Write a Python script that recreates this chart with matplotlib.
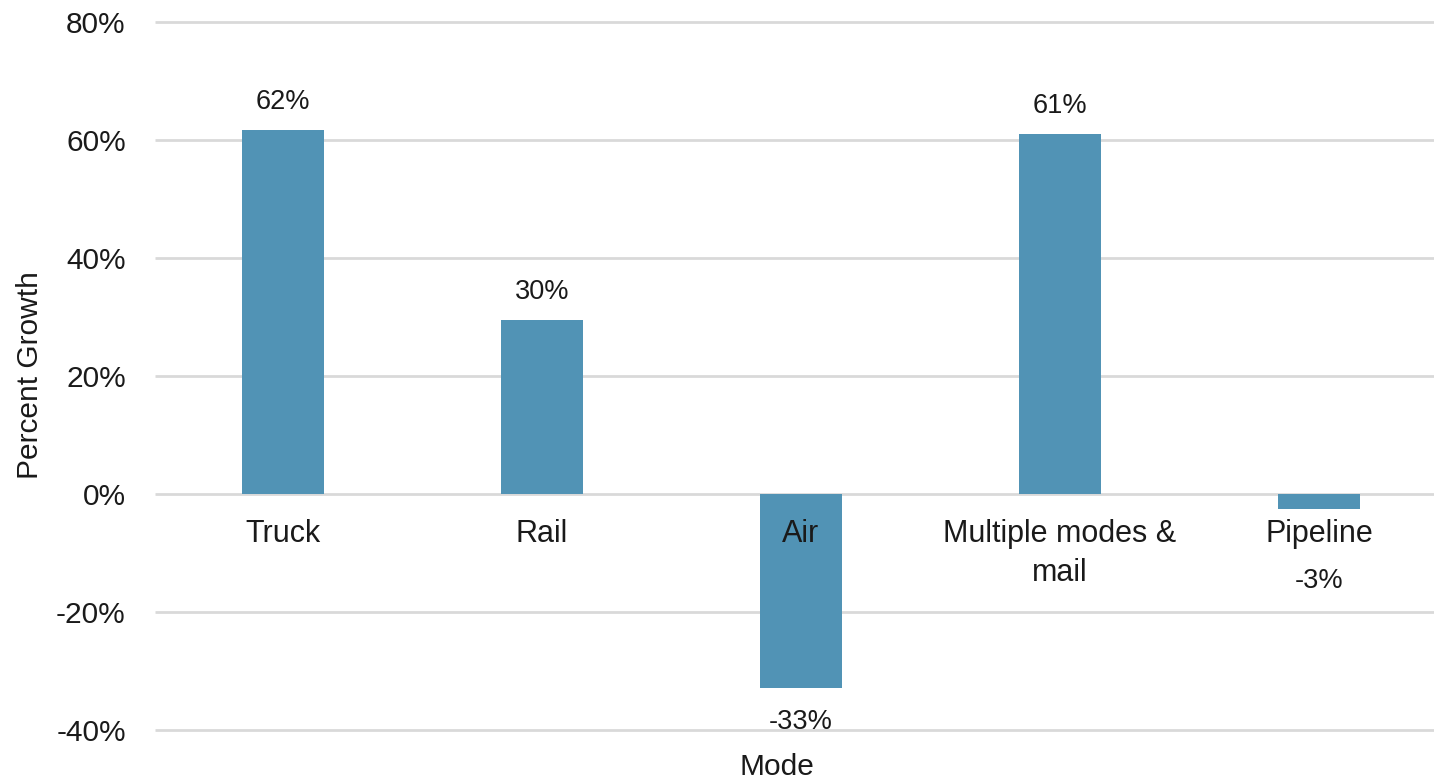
import matplotlib.pyplot as plt

modes = ["Truck", "Rail", "Air", "Multiple modes &\nmail", "Pipeline"]
growth = [61.7, 29.5, -32.9, 61.0, -2.6]
labels = ["62%", "30%", "-33%", "61%", "-3%"]
yticks = [-40, -20, 0, 20, 40, 60, 80]

plt.rcParams['font.family'] = ['Liberation Sans', 'DejaVu Sans']
txt = "#1a1a1a"
barcol = "#5193b5"
gridcol = "#d9d9d9"

fig = plt.figure(figsize=(14.34, 7.81), dpi=100)
W, H = 1434, 781
ax = fig.add_axes([155 / W, 1 - 730 / H, (W - 155) / W, (730 - 22) / H])

x = list(range(len(modes)))
ax.bar(x, growth, width=0.317, color=barcol, zorder=2)

ax.set_ylim(-40, 80)
ax.set_xlim(-0.494, -0.494 + (W - 155) / 259)
ax.hlines(yticks, *ax.get_xlim(), colors=gridcol, linewidth=2, zorder=1, clip_on=False)

ax.set_yticks(yticks)
ax.set_yticklabels([f"{t}%" for t in yticks], fontsize=21.5, color=txt)
ax.tick_params(axis='y', length=0, pad=21)
ax.set_xticks([])
for s in ax.spines.values():
    s.set_visible(False)

# category labels just under the zero line
for xi, name in zip(x, modes):
    ax.annotate(name, (xi, 0), xytext=(0, -18), textcoords='offset points',
                ha='center', va='top', fontsize=22, color=txt, zorder=3,
                linespacing=1.4)

# value labels
for xi, v, lab in zip(x, growth, labels):
    if v >= 0:
        ax.annotate(lab, (xi, v), xytext=(0, 11), textcoords='offset points',
                    ha='center', va='bottom', fontsize=19.5, color=txt)
    elif v > -10:
        # small negative bar: label sits below the category name
        ax.annotate(lab, (xi, 0), xytext=(0, -63), textcoords='offset points',
                    ha='center', va='center', fontsize=19.5, color=txt)
    else:
        ax.annotate(lab, (xi, v), xytext=(0, -15), textcoords='offset points',
                    ha='center', va='top', fontsize=19.5, color=txt)

fig.text(30 / W, 1 - 375 / H, "Percent Growth", rotation=90, ha='center',
         va='center', fontsize=21.5, color=txt)
fig.text(777 / W, 1 - 767 / H, "Mode", ha='center', va='center',
         fontsize=21.5, color=txt)

fig.savefig("out.png", dpi=100)
